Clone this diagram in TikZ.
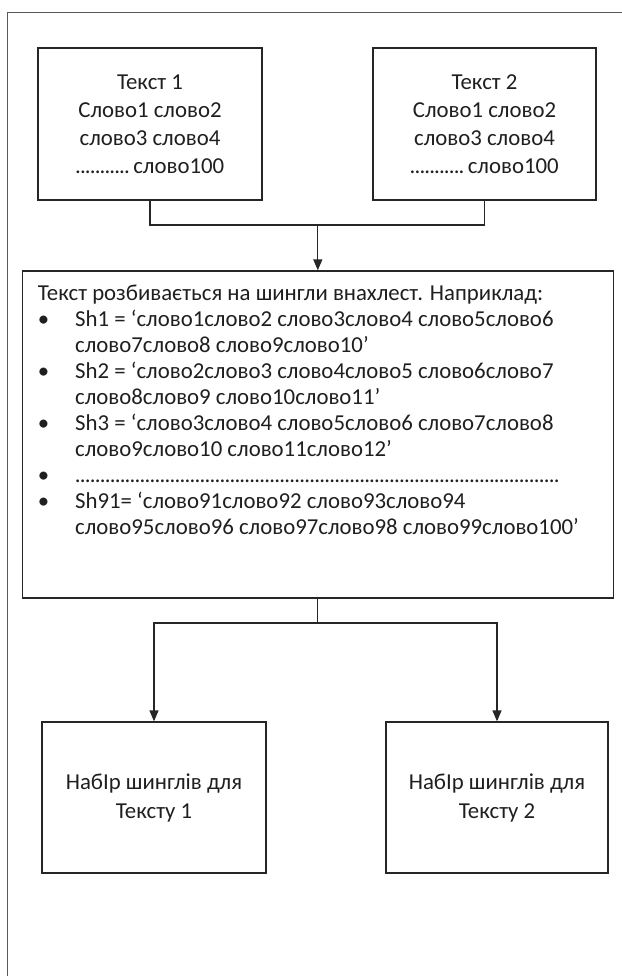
\documentclass[tikz,border=0pt]{standalone}
\usepackage{fontspec}
\setmainfont{Carlito}
\usetikzlibrary{arrows.meta}
\begin{document}
\begin{tikzpicture}[x=1pt,y=-1pt,
  box/.style={draw=black!85, line width=1.3pt, inner sep=0pt, align=center, text=black!88, font=\fontsize{22.8}{28}\selectfont},
  bbox/.style={box, font=\fontsize{22.8}{29}\selectfont},
  conn/.style={draw=black!85, line width=1.3pt},
  arr/.style={conn, -{Triangle[width=9pt,length=11pt]}},
  frame/.style={draw=black!65, line width=1.5pt}]
\useasboundingbox (0,0) rectangle (621,976);
\draw[frame] (7.5,990) -- (7.5,12.7) -- (640,12.7);
\node[box, minimum width=224pt, minimum height=152pt] (t1) at (150,124)
  {Текст 1\\Слово1 слово2\\слово3 слово4\\\makebox[54pt][l]{\leaders\hbox to 4.9pt{\hss.\hss}\hfill}\,слово100};
\node[box, minimum width=223pt, minimum height=152pt] (t2) at (484.5,124)
  {Текст 2\\Слово1 слово2\\слово3 слово4\\\makebox[54pt][l]{\leaders\hbox to 4.9pt{\hss.\hss}\hfill}\,слово100};
\node[box, minimum width=591pt, minimum height=327pt] (big) at (317.8,434.5) {};
\node[anchor=north west, inner sep=0pt, align=left, text=black!88, font=\fontsize{22.8}{26}\selectfont] (bigtext) at (37.7,285)
  {Текст розбивається на шингли внахлест. Наприклад:\\
   \makebox[37.3pt][l]{•}Sh1 = ‘слово1слово2 слово3слово4 слово5слово6\\
   \hspace*{37.3pt}слово7слово8 слово9слово10’\\
   \makebox[37.3pt][l]{•}Sh2 = ‘слово2слово3 слово4слово5 слово6слово7\\
   \hspace*{37.3pt}слово8слово9 слово10слово11’\\
   \makebox[37.3pt][l]{•}Sh3 = ‘слово3слово4 слово5слово6 слово7слово8\\
   \hspace*{37.3pt}слово9слово10 слово11слово12’\\
   \makebox[37.3pt][l]{•}\makebox[485pt][l]{\leaders\hbox to 5pt{\hss.\hss}\hfill}\\
   \makebox[37.3pt][l]{•}Sh91= ‘слово91слово92 слово93слово94\\
   \hspace*{37.3pt}слово95слово96 слово97слово98 слово99слово100’};
\node[bbox, minimum width=224pt, minimum height=151pt] (b1) at (154,797.5)
  {НабІр шинглів для\\Тексту 1};
\node[bbox, minimum width=222pt, minimum height=151pt] (b2) at (497,797.5)
  {НабІр шинглів для\\Тексту 2};
\coordinate (m1) at (317.8,225);
\coordinate (m2) at (317.8,623);
\draw[conn] (t1.south) |- (m1);
\draw[conn] (t2.south) |- (m1);
\draw[arr] (m1) -- (big.north);
\draw[conn] (big.south) -- (m2);
\draw[arr] (m2) -| (b1.north);
\draw[arr] (m2) -| (b2.north);
\end{tikzpicture}
\end{document}
